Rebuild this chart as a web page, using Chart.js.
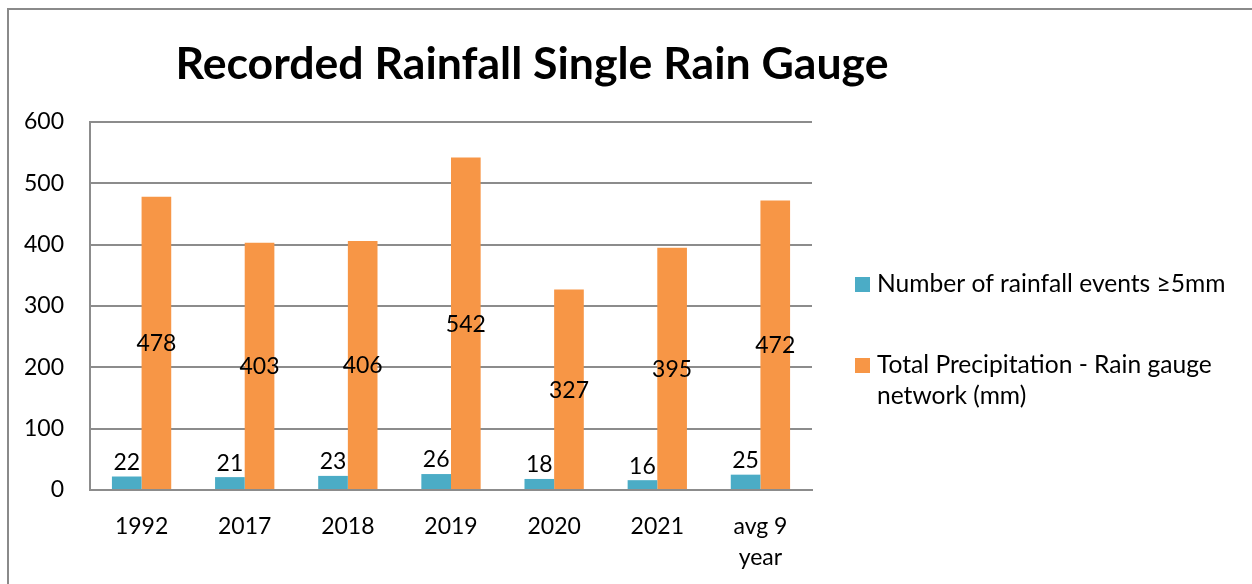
<!DOCTYPE html>
<html>
<head>
<meta charset="utf-8">
<script src="https://cdn.jsdelivr.net/npm/chart.js@4.4.1/dist/chart.umd.min.js"></script>
<style>
  html, body { margin: 0; padding: 0; background: #fff; overflow: hidden; }
  #wrap { width: 1252px; height: 584px; }
</style>
</head>
<body>
<div id="wrap"><canvas id="rainChart" width="1252" height="584"></canvas></div>
<script>
// Chart data
const categories = ['1992', '2017', '2018', '2019', '2020', '2021', ['avg 9', 'year']];
const rainfallEvents = [22, 21, 23, 26, 18, 16, 25];
const totalPrecip = [478, 403, 406, 542, 327, 395, 472];
const yTicks = [0, 100, 200, 300, 400, 500, 600];
const seriesNames = ['Number of rainfall events \u22655mm', 'Total Precipitation - Rain gauge network (mm)'];
const legendLines = [['Number of rainfall events \u22655mm'], ['Total Precipitation - Rain gauge', 'network (mm)']];
const chartTitle = 'Recorded Rainfall Single Rain Gauge';

const FONT = 'Lato, "Open Sans", sans-serif';
const GRID = '#8c8c8c';

// Outer frame, title, legend
const decorPlugin = {
  id: 'decor',
  beforeDraw(chart) {
    const c = chart.ctx;
    c.save();
    c.strokeStyle = '#8a8a8a';
    c.lineWidth = 2;
    c.strokeRect(8, 9, 1400, 800);
    c.restore();
  },
  afterDraw(chart) {
    const c = chart.ctx;
    c.save();
    c.fillStyle = '#000';
    c.font = 'bold 44.6px ' + FONT;
    c.textAlign = 'center';
    c.textBaseline = 'middle';
    c.fillText(chartTitle, 532, 65);

    // legend
    c.font = '24.6px ' + FONT;
    c.textAlign = 'left';
    const itemY = [284, 365];
    chart.data.datasets.forEach((ds, i) => {
      c.fillStyle = ds.backgroundColor;
      c.fillRect(855, itemY[i] - 7, 15, 15);
      c.fillStyle = '#000';
      legendLines[i].forEach((line, j) => {
        c.fillText(line, 877, itemY[i] + j * 31);
      });
    });
    c.restore();
  }
};

// Value labels on the bars
const labelPlugin = {
  id: 'barLabels',
  afterDatasetsDraw(chart) {
    const c = chart.ctx;
    c.save();
    c.font = '23px ' + FONT;
    c.fillStyle = '#000';
    c.textAlign = 'center';
    c.textBaseline = 'middle';
    chart.data.datasets.forEach((ds, i) => {
      const meta = chart.getDatasetMeta(i);
      meta.data.forEach((bar, k) => {
        const h = bar.base - bar.y;
        let y = (bar.y + bar.base) / 2;
        if (h < 30) y = bar.y - 15;
        c.fillText(String(ds.data[k]), bar.x, y + 1);
      });
    });
    c.restore();
  }
};

const ctx = document.getElementById('rainChart').getContext('2d');
const chart = new Chart(ctx, {
  type: 'bar',
  data: {
    labels: categories,
    datasets: [
      { label: seriesNames[0], data: rainfallEvents, backgroundColor: '#4BACC6' },
      { label: seriesNames[1], data: totalPrecip, backgroundColor: '#F79646' }
    ]
  },
  options: {
    responsive: false,
    animation: false,
    devicePixelRatio: 1,
    layout: { padding: { top: 122, right: 440, bottom: 0, left: 0 } },
    datasets: { bar: { barPercentage: 1, categoryPercentage: 0.575 } },
    plugins: {
      legend: { display: false },
      title: { display: false },
      tooltip: { enabled: false }
    },
    scales: {
      x: {
        grid: { display: false, drawTicks: false },
        border: { display: true, color: GRID, width: 2 },
        ticks: {
          color: '#000',
          font: { family: FONT, size: 23, lineHeight: 1.35 },
          padding: 21,
          maxRotation: 0,
          autoSkip: false
        },
        afterFit(scale) { scale.height = 94; }
      },
      y: {
        min: 0,
        max: 600,
        afterBuildTicks(scale) { scale.ticks = yTicks.map(v => ({ value: v })); },
        grid: { color: GRID, lineWidth: 2, drawTicks: false },
        border: { display: true, color: GRID, width: 2 },
        ticks: {
          color: '#000',
          font: { family: FONT, size: 23 },
          padding: 26
        },
        afterFit(scale) { scale.width = 90; }
      }
    }
  },
  plugins: [decorPlugin, labelPlugin]
});
</script>
</body>
</html>
